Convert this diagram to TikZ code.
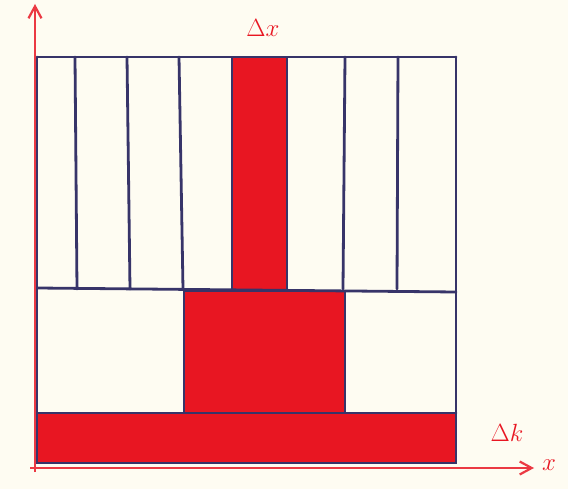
\documentclass[tikz,border=0pt]{standalone}
\usetikzlibrary{arrows.meta}
\definecolor{paper}{RGB}{254,252,242}
\definecolor{ink}{RGB}{55,52,105}
\definecolor{pen}{RGB}{232,22,34}
\tikzset{
  grid line/.style={draw=ink, line width=2.8pt, line cap=round},
  block/.style={fill=pen, draw=ink, line width=2.5pt},
  axis/.style={draw=pen!85!white, line width=2.2pt, -{Straight Barb[length=12pt,width=13pt]}},
  lab/.style={text=pen, font=\fontsize{26}{26}\selectfont\itshape}
}
\begin{document}
\begin{tikzpicture}[x=1pt,y=-1pt]
\fill[paper] (0,0) rectangle (568,489);
\useasboundingbox (0,0) rectangle (568,489);
% red areas
\path[block] (232,57) rectangle (287,290);
\path[block] (184,291) rectangle (345,413);
\path[block] (37,413) rectangle (456,463);
% upper vertical lines
\foreach \xa/\xb in {75/77,127/130,179/183,345/343,398/397}
  \draw[grid line] (\xa,57) -- (\xb,289);
% horizontal lines
\draw[grid line] (37,57) -- (456,57);
\draw[grid line] (37,288) -- (456,292);
\draw[grid line] (37,413) -- (456,413);
% outer frame
\draw[grid line] (37,57) -- (37,463) -- (456,463) -- (456,57);
% axes
\coordinate (o1) at (35,472);
\coordinate (ytop) at (35,4);
\coordinate (o2) at (30,468);
\coordinate (xend) at (534,468);
\draw[axis] (o1) -- (ytop);
\draw[axis] (o2) -- (xend);
% labels
\node[lab] (dx) at (263,28) {$\Delta x$};
\node[lab] (dk) at (507,433) {$\Delta k$};
\node[lab] (xl) at (549,465) {$x$};
\end{tikzpicture}
\end{document}
